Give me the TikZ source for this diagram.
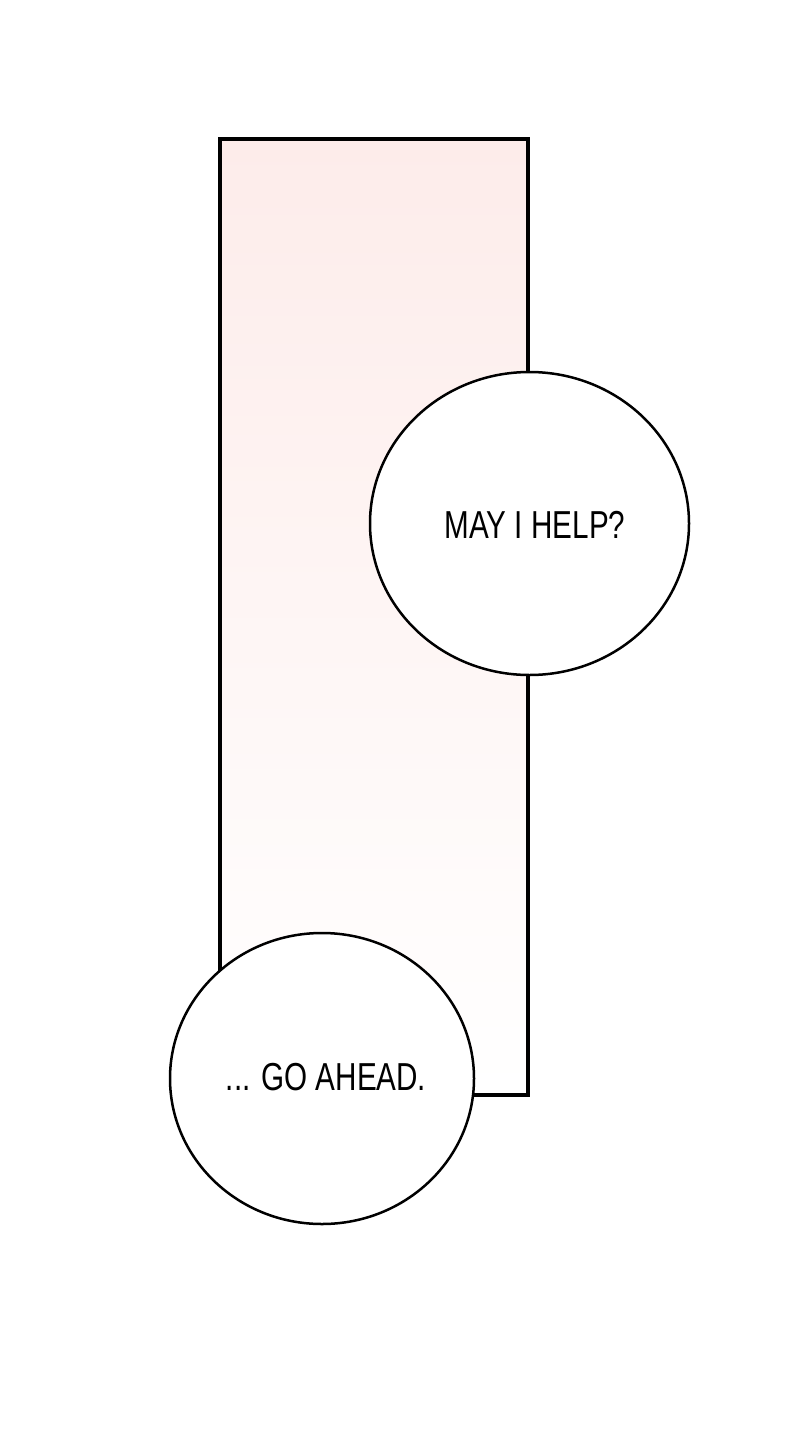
\documentclass[tikz,border=0pt]{standalone}
\usepackage{fontspec}
\usepackage{graphicx}
\setmainfont{Liberation Sans}
\usetikzlibrary{shapes.geometric}
\definecolor{panelpink}{HTML}{FDECEA}
\newcommand{\speech}[1]{\scalebox{0.76}[1]{\fontsize{39}{39}\selectfont #1}}
\begin{document}
\begin{tikzpicture}[x=1pt,y=-1pt]
        \tikzstyle{bubble} = [draw=black,fill=white,line width=2.5pt,ellipse,inner sep=0pt]

        \useasboundingbox (0,0) rectangle (800,1450);
        \fill[white] (0,0) rectangle (800,1450);

        % panel
        \shade[top color=panelpink,bottom color=white] (220,139) rectangle (528,1095);
        \draw[line width=3.2pt] (220,139) rectangle (528,1095);

        \node[bubble,minimum width=319pt,minimum height=303pt] (help) at (529.5,523.5){};
        \node (helptext) at (535,525){\speech{MAY I HELP?}};

        \node[bubble,minimum width=304pt,minimum height=291pt] (ahead) at (322,1078.5){};
        \node (aheadtext) at (326,1077){\speech{... GO AHEAD.}};

    \end{tikzpicture}
\end{document}
